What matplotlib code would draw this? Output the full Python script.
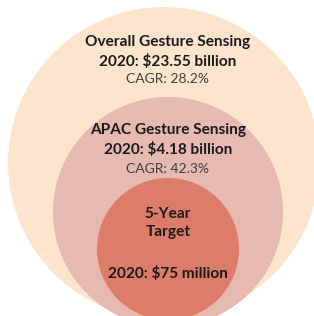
import matplotlib
matplotlib.use("Agg")
import matplotlib.pyplot as plt
from matplotlib.patches import Circle

# data
segments = ["Overall Gesture Sensing", "APAC Gesture Sensing", "5-Year\nTarget"]
values_2020 = ["$23.55 billion", "$4.18 billion", "$75 million"]
cagr = ["28.2%", "42.3%", None]

# layout (pixel coords, y down)
centers = [(164, 163), (168, 212), (168, 249)]
radii = [156, 115, 71]
colors = ["#FCE4CD", "#E6B9B1", "#DD7C68"]

plt.rcParams['font.family'] = ['Lato', 'DejaVu Sans']

fig = plt.figure(figsize=(3.14, 3.16), dpi=100)
ax = fig.add_axes([0, 0, 1, 1])
ax.set_xlim(0, 314)
ax.set_ylim(316, 0)
ax.set_aspect('equal')
ax.axis('off')

for (cx, cy), r, c in zip(centers, radii, colors):
    ax.add_patch(Circle((cx, cy), r, facecolor=c, edgecolor='none'))

fs = 11.1
fs_small = 10.0
dark = '#1a1a1a'
grey = '#404040'

# outer
ax.text(168, 42, segments[0], ha='center', va='center', fontsize=fs, fontweight='bold', color=dark)
ax.text(168, 61, "2020: " + values_2020[0], ha='center', va='center', fontsize=fs, fontweight='bold', color=dark)
ax.text(168, 79, "CAGR: " + cagr[0], ha='center', va='center', fontsize=fs_small, color=grey)

# middle
ax.text(168, 130, segments[1], ha='center', va='center', fontsize=fs, fontweight='bold', color=dark)
ax.text(168, 149, "2020: " + values_2020[1], ha='center', va='center', fontsize=fs, fontweight='bold', color=dark)
ax.text(168, 169, "CAGR: " + cagr[1], ha='center', va='center', fontsize=fs_small, color=grey)

# inner
ax.text(168, 223, segments[2], ha='center', va='center', fontsize=fs, fontweight='bold', color=dark,
        linespacing=1.45)
ax.text(168, 273, "2020: " + values_2020[2], ha='center', va='center', fontsize=fs, fontweight='bold', color=dark)

fig.savefig("out.png", dpi=100)
